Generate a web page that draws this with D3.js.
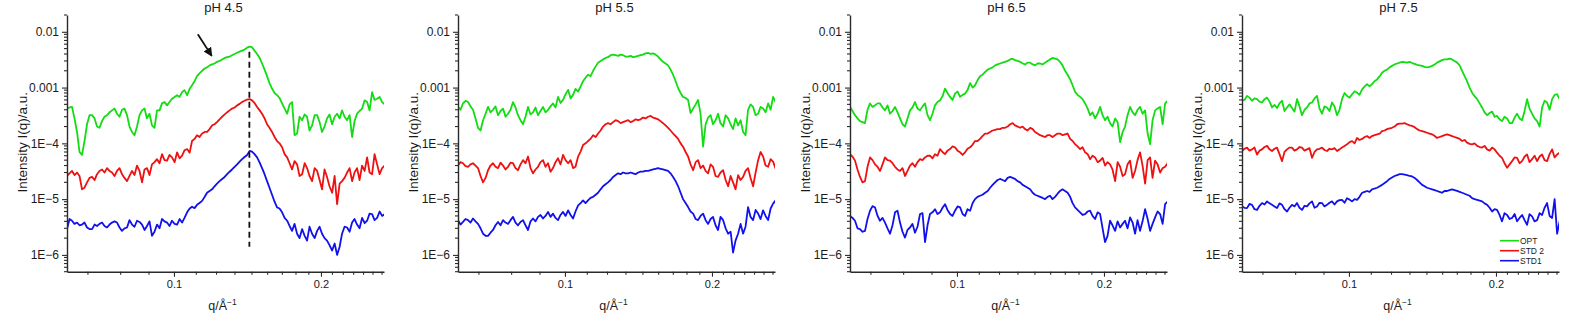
<!DOCTYPE html>
<html>
<head>
<meta charset="utf-8">
<script src="https://cdn.jsdelivr.net/npm/d3@7"></script>
<style>
  body { margin: 0; background: #fff; }
  svg { display: block; }
  text { font-family: "Liberation Sans", Arial, sans-serif; fill: #1a1a1a; }
</style>
</head>
<body>
<svg id="chart" width="1592" height="328"></svg>
<script>
// Scattering vector q (1/Å), shared by every curve
const q = [0.06040, 0.06112, 0.06184, 0.06257, 0.06332, 0.06407, 0.06483, 0.06560, 0.06638, 0.06717,
  0.06797, 0.06878, 0.06958, 0.07041, 0.07124, 0.07208, 0.07294, 0.07381, 0.07468, 0.07557,
  0.07646, 0.07737, 0.07828, 0.07921, 0.08015, 0.08110, 0.08206, 0.08303, 0.08402, 0.08502,
  0.08603, 0.08705, 0.08807, 0.08911, 0.09017, 0.09124, 0.09233, 0.09343, 0.09453, 0.09565,
  0.09679, 0.09794, 0.09910, 0.1003, 0.1015, 0.1027, 0.1039, 0.1051, 0.1064, 0.1077,
  0.1089, 0.1102, 0.1115, 0.1128, 0.1142, 0.1156, 0.1169, 0.1183, 0.1197, 0.1211,
  0.1225, 0.1240, 0.1255, 0.1270, 0.1285, 0.1300, 0.1315, 0.1331, 0.1347, 0.1363,
  0.1379, 0.1395, 0.1412, 0.1429, 0.1445, 0.1462, 0.1480, 0.1498, 0.1515, 0.1533,
  0.1551, 0.1569, 0.1588, 0.1607, 0.1626, 0.1645, 0.1665, 0.1685, 0.1705, 0.1725,
  0.1745, 0.1766, 0.1787, 0.1808, 0.1830, 0.1852, 0.1873, 0.1895, 0.1918, 0.1941,
  0.1964, 0.1987, 0.2010, 0.2034, 0.2058, 0.2082, 0.2108, 0.2133, 0.2158, 0.2184,
  0.2209, 0.2235, 0.2262, 0.2289, 0.2316, 0.2343, 0.2371, 0.2399, 0.2428, 0.2457,
  0.2486, 0.2515, 0.2545, 0.2575, 0.2606, 0.2637, 0.2668, 0.2700, 0.2731];

const panelTitles = ["pH 4.5", "pH 5.5", "pH 6.5", "pH 7.5"];
const seriesNames = ["OPT", "STD 2", "STD1"];
const seriesColors = ["#12dc12", "#ee1111", "#1111ee"];

// Intensity I(q), a.u. — pH 4.5
const opt_pH45 = [4.2e-4, 4.4e-4, 4.5e-4, 2.8e-4, 1.6e-4, 7.0e-5, 6.2e-5, 1.1e-4, 2.2e-4, 3.2e-4,
  3.2e-4, 2.8e-4, 2.0e-4, 1.9e-4, 2.5e-4, 3.0e-4, 3.2e-4, 3.6e-4, 3.9e-4, 4.2e-4,
  3.4e-4, 3.0e-4, 4.0e-4, 4.2e-4, 3.2e-4, 2.0e-4, 1.6e-4, 1.4e-4, 2.0e-4, 3.2e-4,
  3.9e-4, 4.2e-4, 2.8e-4, 3.4e-4, 2.1e-4, 1.9e-4, 3.9e-4, 3.9e-4, 5.2e-4, 5.5e-4,
  4.8e-4, 5.5e-4, 6.3e-4, 6.8e-4, 7.3e-4, 6.8e-4, 8.3e-4, 9.0e-4, 7.3e-4, 9.5e-4,
  1.1e-3, 1.3e-3, 1.6e-3, 1.8e-3, 2.0e-3, 2.2e-3, 2.3e-3, 2.5e-3, 2.6e-3, 2.7e-3,
  2.9e-3, 3.0e-3, 3.2e-3, 3.4e-3, 3.5e-3, 3.6e-3, 3.8e-3, 4.0e-3, 4.2e-3, 4.4e-3,
  4.6e-3, 4.8e-3, 5.2e-3, 5.4e-3, 5.3e-3, 4.6e-3, 4.0e-3, 3.4e-3, 2.7e-3, 2.1e-3,
  1.6e-3, 1.2e-3, 9.6e-4, 8.0e-4, 7.3e-4, 6.5e-4, 5.2e-4, 4.2e-4, 3.4e-4, 5.0e-4,
  5.5e-4, 1.4e-4, 1.5e-4, 3.0e-4, 2.6e-4, 3.3e-4, 3.0e-4, 1.7e-4, 2.1e-4, 3.2e-4,
  3.2e-4, 2.4e-4, 1.6e-4, 2.0e-4, 2.8e-4, 3.3e-4, 2.2e-4, 3.0e-4, 3.4e-4, 2.8e-4,
  3.9e-4, 3.0e-4, 2.6e-4, 3.2e-4, 1.3e-4, 2.5e-4, 3.4e-4, 3.8e-4, 4.2e-4, 5.9e-4,
  5.5e-4, 3.9e-4, 8.3e-4, 6.0e-4, 6.3e-4, 6.8e-4, 5.5e-4, 5.0e-4, 5.9e-4];
const std2_pH45 = [2.6e-5, 2.9e-5, 3.2e-5, 2.7e-5, 3.0e-5, 2.6e-5, 1.5e-5, 1.6e-5, 2.0e-5, 2.4e-5,
  2.5e-5, 2.2e-5, 2.8e-5, 3.2e-5, 3.4e-5, 3.0e-5, 3.6e-5, 3.2e-5, 3.0e-5, 2.6e-5,
  3.2e-5, 3.6e-5, 2.8e-5, 2.4e-5, 2.1e-5, 2.6e-5, 3.2e-5, 2.7e-5, 4.0e-5, 3.2e-5,
  2.0e-5, 3.4e-5, 3.6e-5, 2.7e-5, 4.2e-5, 4.6e-5, 5.2e-5, 4.4e-5, 6.4e-5, 5.0e-5,
  4.9e-5, 6.2e-5, 5.6e-5, 4.6e-5, 6.9e-5, 5.4e-5, 6.0e-5, 7.5e-5, 7.9e-5, 6.8e-5,
  1.1e-4, 1.2e-4, 1.4e-4, 1.3e-4, 1.5e-4, 1.6e-4, 1.6e-4, 1.8e-4, 2.1e-4, 2.2e-4,
  2.4e-4, 2.7e-4, 3.0e-4, 3.3e-4, 3.6e-4, 3.9e-4, 4.2e-4, 4.4e-4, 4.8e-4, 5.1e-4,
  5.5e-4, 5.8e-4, 6.1e-4, 6.2e-4, 5.9e-4, 5.3e-4, 4.5e-4, 3.9e-4, 3.4e-4, 2.8e-4,
  2.2e-4, 1.9e-4, 1.6e-4, 1.3e-4, 1.1e-4, 1.0e-4, 8.5e-5, 6.4e-5, 5.6e-5, 4.4e-5,
  3.4e-5, 4.8e-5, 4.2e-5, 2.6e-5, 2.8e-5, 4.4e-5, 3.6e-5, 2.6e-5, 2.1e-5, 3.6e-5,
  3.2e-5, 2.2e-5, 1.5e-5, 3.4e-5, 2.5e-5, 1.7e-5, 1.3e-5, 2.6e-5, 8.1e-6, 1.9e-5,
  2.1e-5, 2.4e-5, 3.0e-5, 3.6e-5, 2.1e-5, 3.0e-5, 3.6e-5, 2.2e-5, 4.0e-5, 3.2e-5,
  5.6e-5, 3.0e-5, 2.8e-5, 6.4e-5, 4.2e-5, 2.8e-5, 3.6e-5, 4.0e-5, 3.6e-5];
const std1_pH45 = [2.9e-6, 4.4e-6, 4.1e-6, 3.6e-6, 3.8e-6, 3.4e-6, 3.5e-6, 3.8e-6, 3.1e-6, 2.9e-6,
  2.9e-6, 3.5e-6, 3.3e-6, 3.6e-6, 3.8e-6, 3.3e-6, 3.1e-6, 3.5e-6, 3.8e-6, 4.0e-6,
  3.8e-6, 3.1e-6, 2.7e-6, 3.0e-6, 3.1e-6, 4.2e-6, 3.5e-6, 3.2e-6, 4.1e-6, 3.9e-6,
  3.5e-6, 2.8e-6, 3.3e-6, 4.0e-6, 2.2e-6, 2.6e-6, 3.5e-6, 3.0e-6, 4.4e-6, 4.0e-6,
  3.8e-6, 3.3e-6, 4.1e-6, 3.6e-6, 3.5e-6, 4.4e-6, 3.8e-6, 4.6e-6, 5.8e-6, 6.8e-6,
  7.3e-6, 6.9e-6, 7.9e-6, 8.5e-6, 9.3e-6, 1.1e-5, 1.3e-5, 1.4e-5, 1.5e-5, 1.7e-5,
  1.9e-5, 2.1e-5, 2.3e-5, 2.5e-5, 2.8e-5, 3.1e-5, 3.4e-5, 3.8e-5, 4.2e-5, 4.7e-5,
  5.2e-5, 5.7e-5, 6.2e-5, 7.3e-5, 7.1e-5, 6.4e-5, 5.6e-5, 4.5e-5, 3.6e-5, 2.8e-5,
  2.1e-5, 1.6e-5, 1.2e-5, 9.0e-6, 7.1e-6, 6.8e-6, 5.8e-6, 4.6e-6, 4.1e-6, 3.3e-6,
  2.7e-6, 3.6e-6, 2.4e-6, 2.0e-6, 2.9e-6, 2.2e-6, 1.8e-6, 3.2e-6, 2.4e-6, 2.0e-6,
  2.7e-6, 3.2e-6, 2.4e-6, 2.0e-6, 1.8e-6, 1.5e-6, 1.2e-6, 1.6e-6, 1.0e-6, 1.4e-6,
  2.4e-6, 3.2e-6, 3.1e-6, 2.6e-6, 3.8e-6, 4.4e-6, 3.5e-6, 3.0e-6, 4.6e-6, 3.7e-6,
  4.1e-6, 5.5e-6, 5.4e-6, 4.2e-6, 4.6e-6, 6.0e-6, 5.0e-6, 5.4e-6, 6.6e-6];

// pH 5.5
const opt_pH55 = [4.5e-4, 4.0e-4, 5.2e-4, 5.8e-4, 5.5e-4, 4.6e-4, 4.0e-4, 2.8e-4, 1.9e-4, 1.7e-4,
  2.6e-4, 3.4e-4, 4.5e-4, 3.6e-4, 4.0e-4, 4.6e-4, 3.2e-4, 3.8e-4, 4.2e-4, 3.0e-4,
  3.4e-4, 4.0e-4, 5.5e-4, 4.4e-4, 3.2e-4, 2.6e-4, 2.2e-4, 3.0e-4, 4.5e-4, 3.3e-4,
  3.6e-4, 4.4e-4, 3.2e-4, 3.8e-4, 4.5e-4, 3.6e-4, 4.0e-4, 4.6e-4, 5.2e-4, 4.4e-4,
  6.8e-4, 5.3e-4, 6.0e-4, 7.6e-4, 9.1e-4, 6.4e-4, 7.4e-4, 9.5e-4, 8.5e-4, 1.05e-3,
  1.3e-3, 1.5e-3, 1.7e-3, 1.6e-3, 2.0e-3, 2.4e-3, 2.8e-3, 3.0e-3, 3.2e-3, 3.4e-3,
  3.5e-3, 3.8e-3, 3.9e-3, 3.8e-3, 3.7e-3, 3.9e-3, 3.8e-3, 3.6e-3, 3.6e-3, 3.7e-3,
  3.5e-3, 3.6e-3, 3.7e-3, 3.8e-3, 3.9e-3, 4.1e-3, 4.2e-3, 4.0e-3, 4.1e-3, 3.9e-3,
  3.6e-3, 3.2e-3, 2.9e-3, 2.7e-3, 2.5e-3, 2.1e-3, 1.7e-3, 1.3e-3, 9.8e-4, 8.0e-4,
  6.8e-4, 6.5e-4, 6.0e-4, 3.5e-4, 4.2e-4, 5.0e-4, 6.0e-4, 3.4e-4, 8.7e-5, 2.2e-4,
  2.9e-4, 3.2e-4, 2.2e-4, 2.6e-4, 3.4e-4, 2.3e-4, 2.0e-4, 3.2e-4, 2.8e-4, 2.2e-4,
  1.8e-4, 2.8e-4, 2.1e-4, 2.6e-4, 1.6e-4, 1.4e-4, 4.0e-4, 5.0e-4, 4.5e-4, 3.2e-4,
  3.4e-4, 4.5e-4, 4.2e-4, 3.6e-4, 5.2e-4, 4.0e-4, 6.8e-4, 5.5e-4, 3.2e-4];
const std2_pH55 = [4.0e-5, 4.6e-5, 4.4e-5, 3.9e-5, 3.8e-5, 4.2e-5, 4.4e-5, 4.0e-5, 3.6e-5, 2.6e-5,
  2.0e-5, 2.4e-5, 3.3e-5, 4.0e-5, 4.4e-5, 3.8e-5, 3.6e-5, 4.5e-5, 4.0e-5, 3.4e-5,
  3.8e-5, 4.5e-5, 4.4e-5, 3.6e-5, 3.3e-5, 4.2e-5, 5.0e-5, 4.4e-5, 5.8e-5, 3.6e-5,
  2.9e-5, 3.4e-5, 3.8e-5, 4.6e-5, 5.0e-5, 3.8e-5, 4.4e-5, 3.1e-5, 3.6e-5, 4.6e-5,
  5.4e-5, 4.2e-5, 6.2e-5, 5.0e-5, 4.4e-5, 5.0e-5, 3.6e-5, 3.8e-5, 5.8e-5, 7.2e-5,
  9.3e-5, 1.0e-4, 1.1e-4, 1.2e-4, 1.4e-4, 1.3e-4, 1.5e-4, 1.7e-4, 2.0e-4, 2.2e-4,
  2.3e-4, 2.2e-4, 2.4e-4, 2.6e-4, 2.5e-4, 2.3e-4, 2.4e-4, 2.5e-4, 2.6e-4, 2.4e-4,
  2.5e-4, 2.7e-4, 2.6e-4, 2.7e-4, 2.9e-4, 2.8e-4, 3.0e-4, 3.1e-4, 2.9e-4, 2.8e-4,
  2.7e-4, 2.5e-4, 2.3e-4, 2.1e-4, 1.9e-4, 1.7e-4, 1.5e-4, 1.35e-4, 1.2e-4, 1.0e-4,
  8.7e-5, 7.0e-5, 5.8e-5, 4.2e-5, 3.3e-5, 4.6e-5, 5.0e-5, 3.6e-5, 4.0e-5, 3.2e-5,
  2.9e-5, 4.2e-5, 3.8e-5, 2.6e-5, 2.5e-5, 3.0e-5, 3.3e-5, 2.2e-5, 1.7e-5, 2.6e-5,
  2.0e-5, 1.5e-5, 2.7e-5, 2.2e-5, 2.5e-5, 3.2e-5, 3.6e-5, 2.4e-5, 1.7e-5, 3.0e-5,
  5.0e-5, 7.0e-5, 5.8e-5, 4.0e-5, 3.8e-5, 5.2e-5, 4.7e-5, 3.5e-5, 4.0e-5];
const std1_pH55 = [4.2e-6, 3.5e-6, 3.9e-6, 4.4e-6, 4.2e-6, 3.8e-6, 4.5e-6, 4.0e-6, 3.6e-6, 3.0e-6,
  2.4e-6, 2.2e-6, 2.2e-6, 2.5e-6, 2.8e-6, 3.4e-6, 3.9e-6, 3.4e-6, 4.2e-6, 3.8e-6,
  3.6e-6, 4.2e-6, 4.8e-6, 3.8e-6, 3.4e-6, 3.9e-6, 4.2e-6, 3.4e-6, 2.8e-6, 4.0e-6,
  4.5e-6, 4.0e-6, 4.8e-6, 5.2e-6, 4.5e-6, 5.0e-6, 5.9e-6, 4.8e-6, 5.5e-6, 4.6e-6,
  4.2e-6, 5.2e-6, 5.9e-6, 5.0e-6, 6.3e-6, 5.2e-6, 4.5e-6, 6.0e-6, 7.7e-6, 8.5e-6,
  9.5e-6, 8.5e-6, 9.5e-6, 1.05e-5, 1.1e-5, 1.2e-5, 1.3e-5, 1.5e-5, 1.7e-5, 1.85e-5,
  2.0e-5, 2.2e-5, 2.5e-5, 2.7e-5, 2.9e-5, 2.8e-5, 3.0e-5, 2.9e-5, 2.9e-5, 3.0e-5,
  2.9e-5, 2.8e-5, 3.0e-5, 3.1e-5, 3.1e-5, 3.2e-5, 3.2e-5, 3.3e-5, 3.4e-5, 3.5e-5,
  3.6e-5, 3.5e-5, 3.4e-5, 3.3e-5, 3.2e-5, 2.9e-5, 2.5e-5, 2.1e-5, 1.7e-5, 1.3e-5,
  1.0e-5, 8.5e-6, 7.2e-6, 6.0e-6, 5.5e-6, 4.4e-6, 4.2e-6, 5.0e-6, 5.5e-6, 4.2e-6,
  3.6e-6, 4.4e-6, 4.8e-6, 3.4e-6, 2.8e-6, 4.8e-6, 4.2e-6, 3.0e-6, 2.4e-6, 2.6e-6,
  1.1e-6, 1.8e-6, 2.4e-6, 3.6e-6, 2.4e-6, 3.2e-6, 7.2e-6, 4.8e-6, 4.2e-6, 6.4e-6,
  5.5e-6, 4.4e-6, 6.3e-6, 5.0e-6, 4.2e-6, 6.8e-6, 8.3e-6, 9.5e-6, 7.2e-6];

// pH 6.5
const opt_pH65 = [4.5e-4, 3.8e-4, 3.2e-4, 2.8e-4, 2.5e-4, 2.4e-4, 2.3e-4, 4.0e-4, 5.2e-4, 4.5e-4,
  4.8e-4, 5.2e-4, 5.2e-4, 4.4e-4, 3.9e-4, 4.8e-4, 3.4e-4, 3.8e-4, 4.5e-4, 3.6e-4,
  2.8e-4, 2.2e-4, 2.0e-4, 2.8e-4, 3.9e-4, 4.4e-4, 5.5e-4, 4.2e-4, 3.9e-4, 4.6e-4,
  5.2e-4, 3.2e-4, 2.6e-4, 3.4e-4, 4.8e-4, 5.5e-4, 5.9e-4, 7.0e-4, 9.6e-4, 8.0e-4,
  6.8e-4, 6.0e-4, 7.8e-4, 8.5e-4, 6.8e-4, 7.4e-4, 7.8e-4, 9.0e-4, 1.2e-3, 1.0e-3,
  1.1e-3, 1.35e-3, 1.6e-3, 1.7e-3, 1.9e-3, 2.1e-3, 2.2e-3, 2.3e-3, 2.5e-3, 2.6e-3,
  2.7e-3, 2.8e-3, 2.9e-3, 3.0e-3, 3.2e-3, 3.3e-3, 3.1e-3, 3.0e-3, 2.9e-3, 2.7e-3,
  2.6e-3, 2.8e-3, 2.8e-3, 2.6e-3, 2.5e-3, 2.7e-3, 2.7e-3, 2.6e-3, 2.8e-3, 3.0e-3,
  3.2e-3, 3.4e-3, 3.3e-3, 3.2e-3, 2.9e-3, 2.5e-3, 2.0e-3, 1.7e-3, 1.4e-3, 1.1e-3,
  8.4e-4, 7.4e-4, 6.8e-4, 6.2e-4, 5.2e-4, 4.2e-4, 3.2e-4, 3.6e-4, 2.8e-4, 3.4e-4,
  4.5e-4, 3.2e-4, 2.6e-4, 3.0e-4, 2.3e-4, 2.0e-4, 2.8e-4, 2.4e-4, 1.05e-4, 1.6e-4,
  2.0e-4, 3.2e-4, 4.5e-4, 3.6e-4, 3.2e-4, 4.0e-4, 4.5e-4, 3.4e-4, 3.9e-4, 1.5e-4,
  9.7e-5, 2.6e-4, 3.9e-4, 4.2e-4, 4.5e-4, 2.2e-4, 5.2e-4, 5.8e-4, 6.8e-4];
const std2_pH65 = [6.4e-5, 5.8e-5, 4.9e-5, 3.4e-5, 2.5e-5, 2.0e-5, 2.1e-5, 3.8e-5, 5.6e-5, 5.0e-5,
  4.2e-5, 3.8e-5, 3.2e-5, 4.2e-5, 5.6e-5, 5.0e-5, 4.9e-5, 4.4e-5, 3.8e-5, 3.4e-5,
  3.2e-5, 3.6e-5, 2.6e-5, 3.2e-5, 4.0e-5, 4.4e-5, 3.8e-5, 4.6e-5, 5.2e-5, 5.0e-5,
  5.6e-5, 6.0e-5, 6.0e-5, 5.4e-5, 6.4e-5, 6.0e-5, 7.9e-5, 7.0e-5, 6.4e-5, 7.4e-5,
  7.9e-5, 8.8e-5, 8.5e-5, 7.4e-5, 6.9e-5, 6.2e-5, 6.9e-5, 8.0e-5, 8.5e-5, 9.5e-5,
  1.1e-4, 1.1e-4, 1.2e-4, 1.35e-4, 1.5e-4, 1.5e-4, 1.6e-4, 1.7e-4, 1.75e-4, 1.8e-4,
  1.8e-4, 1.9e-4, 1.9e-4, 2.0e-4, 2.2e-4, 2.3e-4, 2.1e-4, 2.0e-4, 1.9e-4, 2.0e-4,
  1.8e-4, 1.7e-4, 1.9e-4, 1.8e-4, 1.6e-4, 1.5e-4, 1.4e-4, 1.35e-4, 1.3e-4, 1.4e-4,
  1.4e-4, 1.3e-4, 1.4e-4, 1.5e-4, 1.5e-4, 1.4e-4, 1.45e-4, 1.5e-4, 1.2e-4, 1.1e-4,
  9.7e-5, 8.8e-5, 7.9e-5, 8.5e-5, 6.9e-5, 6.4e-5, 5.2e-5, 6.0e-5, 5.6e-5, 4.6e-5,
  4.9e-5, 5.5e-5, 4.0e-5, 4.6e-5, 4.2e-5, 3.4e-5, 2.1e-5, 4.6e-5, 3.8e-5, 2.6e-5,
  2.8e-5, 4.2e-5, 4.9e-5, 2.4e-5, 3.2e-5, 5.0e-5, 6.9e-5, 4.0e-5, 1.9e-5, 5.0e-5,
  5.6e-5, 2.4e-5, 4.9e-5, 4.2e-5, 3.0e-5, 3.6e-5, 3.8e-5, 4.4e-5, 1.2e-4];
const std1_pH65 = [5.0e-6, 4.6e-6, 4.1e-6, 3.0e-6, 2.9e-6, 2.6e-6, 2.7e-6, 4.4e-6, 6.2e-6, 7.5e-6,
  7.1e-6, 5.0e-6, 4.1e-6, 4.6e-6, 3.8e-6, 3.0e-6, 2.4e-6, 3.4e-6, 5.8e-6, 6.2e-6,
  3.8e-6, 2.6e-6, 2.05e-6, 2.8e-6, 3.1e-6, 3.6e-6, 2.5e-6, 3.2e-6, 5.4e-6, 5.6e-6,
  1.7e-6, 3.4e-6, 5.4e-6, 5.8e-6, 6.6e-6, 5.4e-6, 5.8e-6, 7.0e-6, 8.1e-6, 6.4e-6,
  5.4e-6, 5.0e-6, 6.2e-6, 7.4e-6, 7.1e-6, 5.4e-6, 5.0e-6, 6.6e-6, 6.2e-6, 8.5e-6,
  1.0e-5, 1.1e-5, 1.15e-5, 1.2e-5, 1.3e-5, 1.4e-5, 1.6e-5, 1.8e-5, 2.0e-5, 2.2e-5,
  2.3e-5, 2.2e-5, 2.1e-5, 2.4e-5, 2.5e-5, 2.4e-5, 2.3e-5, 2.1e-5, 2.0e-5, 1.8e-5,
  1.7e-5, 1.6e-5, 1.5e-5, 1.3e-5, 1.2e-5, 1.15e-5, 1.1e-5, 1.05e-5, 1.0e-5, 1.1e-5,
  1.15e-5, 1.0e-5, 1.1e-5, 1.25e-5, 1.4e-5, 1.5e-5, 1.4e-5, 1.3e-5, 1.1e-5, 8.5e-6,
  7.1e-6, 6.4e-6, 5.8e-6, 5.2e-6, 5.4e-6, 6.0e-6, 6.2e-6, 5.0e-6, 4.4e-6, 5.8e-6,
  5.4e-6, 3.0e-6, 1.7e-6, 2.2e-6, 4.1e-6, 3.4e-6, 2.7e-6, 4.0e-6, 3.1e-6, 3.6e-6,
  4.1e-6, 3.0e-6, 4.7e-6, 3.8e-6, 2.4e-6, 4.2e-6, 2.7e-6, 4.0e-6, 6.6e-6, 4.4e-6,
  2.7e-6, 3.6e-6, 4.7e-6, 6.0e-6, 5.4e-6, 3.6e-6, 8.1e-6, 9.0e-6, 6.2e-6];

// pH 7.5
const opt_pH75 = [5.8e-4, 6.0e-4, 7.1e-4, 6.6e-4, 5.8e-4, 6.4e-4, 6.2e-4, 5.6e-4, 5.4e-4, 6.2e-4,
  6.6e-4, 5.6e-4, 4.4e-4, 4.9e-4, 4.3e-4, 5.2e-4, 5.8e-4, 3.8e-4, 4.4e-4, 5.0e-4,
  4.3e-4, 3.7e-4, 6.2e-4, 4.6e-4, 3.2e-4, 4.0e-4, 4.4e-4, 5.2e-4, 5.4e-4, 6.4e-4,
  7.1e-4, 4.2e-4, 3.4e-4, 4.6e-4, 4.4e-4, 3.8e-4, 5.4e-4, 4.6e-4, 3.2e-4, 4.0e-4,
  6.2e-4, 8.0e-4, 7.1e-4, 6.6e-4, 7.6e-4, 8.6e-4, 8.1e-4, 7.4e-4, 9.3e-4, 1.05e-3,
  1.15e-3, 1.05e-3, 1.15e-3, 1.3e-3, 1.4e-3, 1.6e-3, 1.85e-3, 2.0e-3, 2.1e-3, 2.3e-3,
  2.45e-3, 2.6e-3, 2.7e-3, 2.8e-3, 2.9e-3, 2.85e-3, 2.8e-3, 2.9e-3, 2.75e-3, 2.65e-3,
  2.55e-3, 2.5e-3, 2.45e-3, 2.35e-3, 2.3e-3, 2.35e-3, 2.45e-3, 2.6e-3, 2.8e-3, 2.95e-3,
  3.1e-3, 3.2e-3, 3.2e-3, 3.3e-3, 3.2e-3, 3.0e-3, 2.8e-3, 2.5e-3, 2.0e-3, 1.6e-3,
  1.3e-3, 1.0e-3, 8.1e-4, 7.0e-4, 6.2e-4, 5.2e-4, 4.4e-4, 3.6e-4, 3.2e-4, 3.5e-4,
  3.7e-4, 3.0e-4, 3.1e-4, 2.7e-4, 2.5e-4, 3.0e-4, 2.8e-4, 2.3e-4, 2.3e-4, 2.9e-4,
  3.4e-4, 2.8e-4, 2.6e-4, 3.8e-4, 6.2e-4, 4.2e-4, 3.4e-4, 2.8e-4, 2.5e-4, 2.0e-4,
  4.4e-4, 5.8e-4, 5.4e-4, 4.0e-4, 6.2e-4, 7.4e-4, 7.6e-4, 6.2e-4, 7.1e-4];
const std2_pH75 = [7.3e-5, 8.0e-5, 8.4e-5, 7.4e-5, 7.8e-5, 8.4e-5, 6.3e-5, 7.4e-5, 7.8e-5, 8.6e-5,
  9.0e-5, 7.8e-5, 7.3e-5, 8.0e-5, 8.4e-5, 6.4e-5, 4.8e-5, 7.0e-5, 7.8e-5, 8.4e-5,
  8.4e-5, 7.4e-5, 7.8e-5, 8.6e-5, 8.4e-5, 7.4e-5, 7.8e-5, 8.2e-5, 5.5e-5, 7.0e-5,
  7.8e-5, 8.0e-5, 8.4e-5, 7.6e-5, 7.3e-5, 8.0e-5, 7.8e-5, 8.2e-5, 7.3e-5, 7.8e-5,
  8.4e-5, 9.0e-5, 9.6e-5, 1.05e-4, 1.1e-4, 1.0e-4, 1.25e-4, 1.15e-4, 1.2e-4, 1.3e-4,
  1.35e-4, 1.25e-4, 1.35e-4, 1.4e-4, 1.45e-4, 1.5e-4, 1.65e-4, 1.7e-4, 1.8e-4, 1.85e-4,
  1.9e-4, 2.0e-4, 2.2e-4, 2.25e-4, 2.25e-4, 2.3e-4, 2.2e-4, 2.1e-4, 2.05e-4, 1.95e-4,
  1.8e-4, 1.7e-4, 1.65e-4, 1.6e-4, 1.55e-4, 1.5e-4, 1.45e-4, 1.35e-4, 1.25e-4, 1.3e-4,
  1.35e-4, 1.4e-4, 1.45e-4, 1.4e-4, 1.35e-4, 1.3e-4, 1.25e-4, 1.2e-4, 1.1e-4, 1.15e-4,
  1.03e-4, 9.8e-5, 9.6e-5, 1.0e-4, 9.0e-5, 8.6e-5, 8.4e-5, 9.0e-5, 7.8e-5, 7.4e-5,
  8.4e-5, 7.8e-5, 6.8e-5, 6.0e-5, 5.5e-5, 4.4e-5, 3.65e-5, 4.2e-5, 4.8e-5, 5.6e-5,
  5.5e-5, 4.4e-5, 4.8e-5, 5.8e-5, 6.3e-5, 4.6e-5, 5.2e-5, 6.0e-5, 4.8e-5, 5.8e-5,
  6.3e-5, 5.0e-5, 4.8e-5, 6.4e-5, 7.8e-5, 5.6e-5, 6.3e-5, 6.8e-5, 7.3e-5];
const std1_pH75 = [7.4e-6, 7.0e-6, 6.9e-6, 8.2e-6, 7.9e-6, 6.6e-6, 6.4e-6, 7.6e-6, 8.5e-6, 8.0e-6,
  9.1e-6, 8.4e-6, 7.9e-6, 7.4e-6, 6.9e-6, 8.4e-6, 7.9e-6, 6.6e-6, 6.0e-6, 7.0e-6,
  7.9e-6, 7.4e-6, 8.5e-6, 7.0e-6, 6.4e-6, 7.6e-6, 7.4e-6, 8.4e-6, 9.1e-6, 7.0e-6,
  7.4e-6, 8.6e-6, 8.5e-6, 7.4e-6, 7.9e-6, 8.6e-6, 9.1e-6, 8.0e-6, 9.1e-6, 9.6e-6,
  9.7e-6, 8.6e-6, 1.04e-5, 9.8e-6, 9.1e-6, 1.0e-5, 9.7e-6, 1.1e-5, 1.3e-5, 1.35e-5,
  1.4e-5, 1.35e-5, 1.5e-5, 1.55e-5, 1.6e-5, 1.7e-5, 1.8e-5, 1.95e-5, 2.1e-5, 2.3e-5,
  2.45e-5, 2.6e-5, 2.7e-5, 2.8e-5, 2.8e-5, 2.75e-5, 2.7e-5, 2.6e-5, 2.55e-5, 2.4e-5,
  2.2e-5, 2.0e-5, 1.8e-5, 1.7e-5, 1.6e-5, 1.55e-5, 1.5e-5, 1.45e-5, 1.4e-5, 1.35e-5,
  1.3e-5, 1.4e-5, 1.4e-5, 1.45e-5, 1.5e-5, 1.45e-5, 1.4e-5, 1.35e-5, 1.3e-5, 1.25e-5,
  1.2e-5, 1.15e-5, 1.04e-5, 1.0e-5, 9.7e-6, 9.4e-6, 9.1e-6, 8.4e-6, 7.9e-6, 7.0e-6,
  6.0e-6, 6.6e-6, 6.4e-6, 5.2e-6, 4.0e-6, 5.6e-6, 5.2e-6, 4.4e-6, 4.6e-6, 5.4e-6,
  4.0e-6, 4.6e-6, 5.2e-6, 4.2e-6, 3.45e-6, 5.4e-6, 4.9e-6, 4.0e-6, 4.2e-6, 5.6e-6,
  5.2e-6, 7.0e-6, 8.5e-6, 5.0e-6, 4.6e-6, 1.0e-5, 2.4e-6, 4.0e-6, 6.4e-6];

const panelSeries = [
  [opt_pH45, std2_pH45, std1_pH45],
  [opt_pH55, std2_pH55, std1_pH55],
  [opt_pH65, std2_pH65, std1_pH65],
  [opt_pH75, std2_pH75, std1_pH75]
];

// Axis ticks
const xTickValues = [0.1, 0.2];
const xTickLabels = ["0.1", "0.2"];
const yTickValues = [1e-2, 1e-3, 1e-4, 1e-5, 1e-6];
const yTickLabels = ["0.01", "0.001", "1E\u22124", "1E\u22125", "1E\u22126"];

// Peak marker (dashed line) and arrow in the pH 4.5 panel
const peakQ = 0.1427;
const peakRange = [4.4e-3, 1.4e-6];
const arrowFrom = [0.1119, 9.0e-3];
const arrowTo = [0.1195, 3.7e-3];

// Layout
const panelLeft = [67, 458, 850, 1242];
const plotW = 317;
const plotTop = 15;
const plotH = 256.7;

const svg = d3.select("#chart");
svg.append("rect").attr("width", 1592).attr("height", 328).attr("fill", "#fff");

const defs = svg.append("defs");
defs.append("clipPath").attr("id", "plotClip")
  .append("rect").attr("x", 0).attr("y", 0).attr("width", plotW).attr("height", plotH);
defs.append("marker")
  .attr("id", "arrowHead")
  .attr("viewBox", "0 0 10 10")
  .attr("refX", 9).attr("refY", 5)
  .attr("markerWidth", 5).attr("markerHeight", 5)
  .attr("orient", "auto")
  .append("path").attr("d", "M0,0 L10,5 L0,10 Z").attr("fill", "#111");

const x = d3.scaleLog().domain([0.0604, 0.2692]).range([0, plotW]);
const y = d3.scaleLog().domain([5e-7, 0.02]).range([plotH, 0]);

// minor ticks
const xMinor = d3.range(6, 25).map(n => n / 90).filter(v => Math.abs(v - 0.1) > 1e-6 && Math.abs(v - 0.2) > 1e-6);
const yMinor = [];
for (let e = -7; e <= -2; e++) {
  for (let m = 2; m <= 9; m++) {
    const v = m * Math.pow(10, e);
    if (v >= 5e-7 && v <= 0.02) yMinor.push(v);
  }
}

const line = d3.line()
  .x((d, i) => x(q[i]))
  .y(d => y(d));

const axisColor = "#2a2a2a";

panelTitles.forEach((title, p) => {
  const g = svg.append("g").attr("transform", `translate(${panelLeft[p]},${plotTop})`);

  // curves
  const plot = g.append("g").attr("clip-path", "url(#plotClip)");
  panelSeries[p].forEach((vals, s) => {
    plot.append("path")
      .datum(vals)
      .attr("d", line)
      .attr("fill", "none")
      .attr("stroke", seriesColors[s])
      .attr("stroke-width", 1.8)
      .attr("stroke-linejoin", "round");
  });

  // x axis
  const xAxisG = g.append("g").attr("transform", `translate(0,${plotH})`);
  xAxisG.call(d3.axisBottom(x).tickValues(xTickValues)
      .tickFormat((d, i) => xTickLabels[i]).tickSize(5).tickSizeOuter(0).tickPadding(4));
  xAxisG.selectAll(".minor").data(xMinor).join("line")
    .attr("class", "minor")
    .attr("x1", d => x(d)).attr("x2", d => x(d))
    .attr("y1", 0).attr("y2", 3);
  xAxisG.selectAll(".tick text").attr("font-size", 11);

  // y axis
  const yAxisG = g.append("g");
  yAxisG.call(d3.axisLeft(y).tickValues(yTickValues)
      .tickFormat((d, i) => yTickLabels[i]).tickSize(5).tickSizeOuter(0).tickPadding(3));
  yAxisG.selectAll(".minor").data(yMinor).join("line")
    .attr("class", "minor")
    .attr("y1", d => y(d)).attr("y2", d => y(d))
    .attr("x1", 0).attr("x2", -3);
  yAxisG.selectAll(".tick text").attr("font-size", 12);

  [xAxisG, yAxisG].forEach(ax => {
    ax.select(".domain").attr("stroke", axisColor).attr("stroke-width", 1.4);
    ax.selectAll(".tick line, line.minor").attr("stroke", axisColor).attr("stroke-width", 1.1);
    ax.selectAll(".tick text")
      .attr("font-family", "'Liberation Sans', Arial, sans-serif").attr("fill", "#1a1a1a");
  });

  // title
  g.append("text")
    .attr("x", plotW / 2 - 2).attr("y", -3)
    .attr("text-anchor", "middle")
    .attr("font-size", 13)
    .text(title);

  // axis titles
  g.append("text")
    .attr("transform", `translate(-45,${plotH / 2 - 1}) rotate(-90)`)
    .attr("text-anchor", "middle")
    .attr("dy", "0.35em")
    .attr("font-size", 13.5)
    .text("Intensity I(q)/a.u.");

  const xl = g.append("text")
    .attr("x", plotW / 2 - 3).attr("y", plotH + 38)
    .attr("text-anchor", "middle")
    .attr("font-size", 12.5);
  xl.append("tspan").text("q/Å");
  xl.append("tspan").attr("font-size", 8.5).attr("dy", -5).text("\u22121");

  if (p === 0) {
    g.append("line")
      .attr("x1", x(peakQ)).attr("x2", x(peakQ))
      .attr("y1", y(peakRange[0])).attr("y2", y(peakRange[1]))
      .attr("stroke", "#111").attr("stroke-width", 1.8)
      .attr("stroke-dasharray", "6,4");
    g.append("line")
      .attr("x1", x(arrowFrom[0])).attr("y1", y(arrowFrom[1]))
      .attr("x2", x(arrowTo[0])).attr("y2", y(arrowTo[1]))
      .attr("stroke", "#111").attr("stroke-width", 1.8)
      .attr("marker-end", "url(#arrowHead)");
  }

  if (p === 3) {
    const lg = g.append("g").attr("transform", `translate(${258},${225.7})`);
    seriesNames.forEach((name, s) => {
      lg.append("line")
        .attr("x1", 0).attr("x2", 19)
        .attr("y1", s * 10).attr("y2", s * 10)
        .attr("stroke", seriesColors[s]).attr("stroke-width", 1.6);
      lg.append("text")
        .attr("x", 20).attr("y", s * 10)
        .attr("dy", "0.35em")
        .attr("font-size", 8.5)
        .attr("fill", "#333")
        .text(name);
    });
  }
});
</script>
</body>
</html>
